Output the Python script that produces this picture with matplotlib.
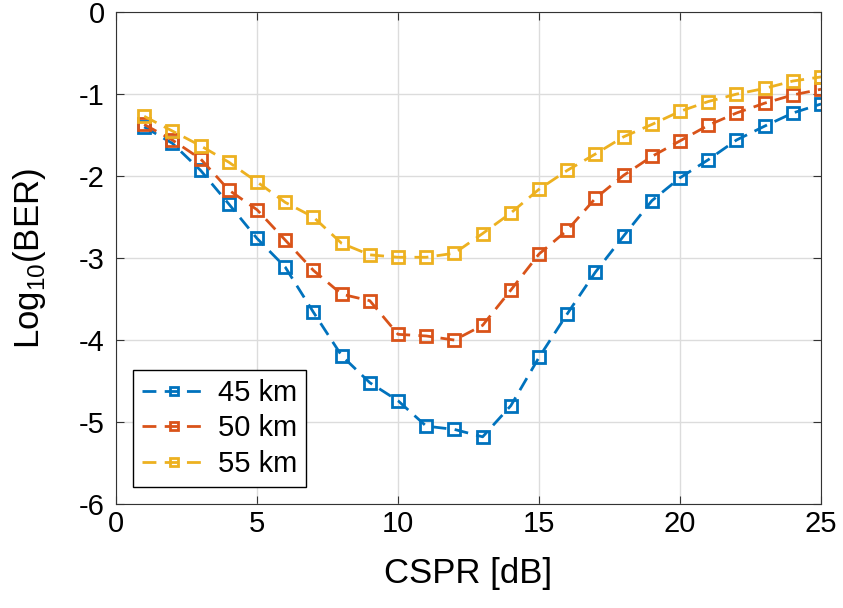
import numpy as np
import matplotlib.pyplot as plt

plt.rcParams['font.family'] = ['Liberation Sans', 'DejaVu Sans']
plt.rcParams['axes.unicode_minus'] = False
plt.rcParams['mathtext.fontset'] = 'custom'
plt.rcParams['mathtext.rm'] = 'Liberation Sans'

cspr = np.arange(1, 26)
ber_45 = [-1.40, -1.60, -1.93, -2.34, -2.76, -3.11, -3.66, -4.19, -4.52, -4.74,
          -5.05, -5.09, -5.18, -4.80, -4.21, -3.68, -3.17, -2.73, -2.30, -2.02,
          -1.80, -1.56, -1.39, -1.23, -1.12]
ber_50 = [-1.37, -1.56, -1.79, -2.17, -2.41, -2.78, -3.15, -3.44, -3.52, -3.93,
          -3.95, -4.00, -3.82, -3.39, -2.95, -2.66, -2.27, -1.99, -1.76, -1.57,
          -1.38, -1.23, -1.11, -1.01, -0.94]
ber_55 = [-1.27, -1.45, -1.63, -1.83, -2.07, -2.32, -2.50, -2.82, -2.96, -2.99,
          -2.99, -2.94, -2.70, -2.45, -2.16, -1.93, -1.73, -1.52, -1.37, -1.21,
          -1.09, -1.00, -0.93, -0.84, -0.79]
labels = ['45 km', '50 km', '55 km']
colors = ['#0072BD', '#D95319', '#EDB120']

fig = plt.figure(figsize=(8.43, 6.08), dpi=100)
ax = fig.add_axes([0.1376, 0.171, 0.8364, 0.809])

for ber, lab, c in zip([ber_45, ber_50, ber_55], labels, colors):
    ax.plot(cspr, ber, '--s', color=c, label=lab, lw=2, ms=9,
            mfc='none', mew=2, dashes=(5, 3))

ax.set_xlim(0, 25)
ax.set_ylim(-6, 0)
ax.set_xticks(range(0, 26, 5))
ax.set_yticks(range(-6, 1))
ax.grid(True, color='#dcdcdc', lw=1)
ax.tick_params(direction='in', top=True, right=True, labelsize=21, length=6,
               color='#333333')
ax.tick_params(axis='x', pad=4)
ax.tick_params(axis='y', pad=8)
for s in ax.spines.values():
    s.set_color('#333333')
ax.set_xlabel('CSPR [dB]', fontsize=25, labelpad=14)
ax.set_ylabel(r'Log$_{\mathrm{10}}$(BER)', fontsize=25, labelpad=22)

leg = ax.legend(loc='lower left', fontsize=21, fancybox=False, framealpha=1,
                edgecolor='black', borderaxespad=0.6, handlelength=2.2,
                handletextpad=0.4, labelspacing=0.25, borderpad=0.3,
                markerscale=0.6)
leg.get_frame().set_linewidth(1)

fig.savefig('out.png', dpi=100)
